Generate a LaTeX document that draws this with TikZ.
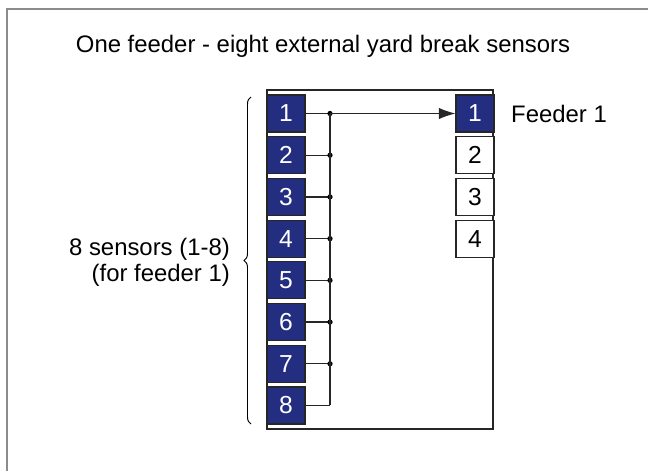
\documentclass[tikz,border=0pt]{standalone}
\usepackage{fontspec}
\setmainfont{Liberation Sans}
\usetikzlibrary{arrows.meta,positioning,decorations.pathreplacing}
\definecolor{sensorblue}{RGB}{36,46,128}
\definecolor{framegray}{RGB}{140,140,140}

\begin{document}
\begin{tikzpicture}[x=0.02cm,y=-0.02cm, every node/.style={font=\fontsize{13.6}{14.6}\selectfont}]
    \tikzset{
        sensorbox/.style={draw=black!85, line width=0.6pt, fill=sensorblue, text=white, minimum width=0.76cm, minimum height=0.74cm, inner sep=0pt, font=\fontsize{14}{15}\selectfont},
        feederbox/.style={draw=black!85, line width=0.6pt, fill=white, minimum width=0.76cm, minimum height=0.74cm, inner sep=0pt, font=\fontsize{14}{15}\selectfont},
        wire/.style={line width=0.65pt, black!85},
        junction/.style={circle, fill=black, inner sep=0pt, minimum size=3pt}
    }
    \useasboundingbox (0,0) rectangle (648,471);
    \draw[framegray, line width=0.9pt] (7,471) -- (7,9) -- (648,9);
    \node (title) at (323,46) {One feeder - eight external yard break sensors};
    % unit outline
    \node[draw=black!85, line width=0.7pt, minimum width=4.52cm, minimum height=6.78cm, inner sep=0pt] (unit) at (380,259.5) {};
    % sensors and taps onto the bus
    \foreach \i in {1,...,8} {
        \node[sensorbox] (s\i) at (286,{113.5+(\i-1)*41.71}) {\i};
        \coordinate (j\i) at (330,{113.5+(\i-1)*41.71});
        \draw[wire] (s\i.east) -- (j\i);
    }
    \foreach \i in {1,...,7} \node[junction] at (j\i) {};
    \draw[wire] (j1) -- (j8);
    % feeder inputs
    \node[sensorbox] (f1) at (475,113.5) {1};
    \foreach \i in {2,3,4}
        \node[feederbox] (f\i) at (475,{113.5+(\i-1)*41.71}) {\i};
    \draw[wire, -{Latex[length=9.5pt,width=6.5pt]}] (j1) -- (f1.west);
    \node[anchor=west] (flabel) at (505,114) {Feeder 1};
    % brace
    \draw[line width=0.55pt, decorate, decoration={brace, amplitude=4pt}] (251,424) -- (251,97);
    \node[anchor=east, align=right] (slabel) at (236,262) {8 sensors (1-8)\\(for feeder 1)};
\end{tikzpicture}
\end{document}
